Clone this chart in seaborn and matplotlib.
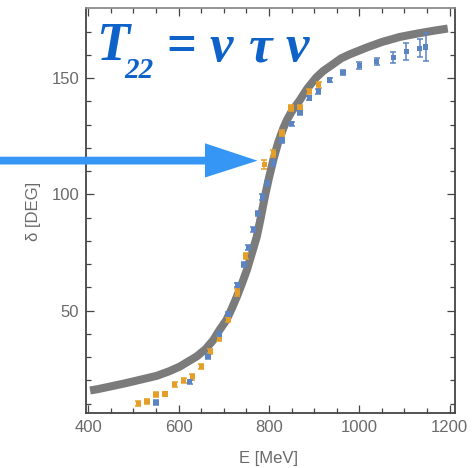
import matplotlib
matplotlib.use("Agg")
import matplotlib.pyplot as plt
import seaborn as sns
import numpy as np
from matplotlib.patches import Polygon

# ---- data ----
E_curve = [404, 420, 456, 480, 500, 552, 580, 603, 620, 640, 660, 677, 690, 706, 718,
           729, 740, 751, 762, 773, 782, 791, 800, 810, 820, 832, 840, 850, 868, 885,
           905, 920, 942, 960, 980, 1016, 1050, 1090, 1130, 1163, 1196]
delta_curve = [15.7, 16.2, 17.7, 18.7, 19.6, 22.0, 24.0, 26.0, 28.0, 30.3, 33.5, 37.4,
               41.5, 46.0, 51.0, 56.0, 61.5, 67.4, 74.5, 81.7, 90.0, 99.0, 107.0, 115.0,
               122.0, 128.5, 132.0, 135.5, 140.4, 145.5, 150.3, 153.0, 156.0, 158.5,
               160.3, 163.1, 165.5, 167.7, 169.2, 170.3, 171.3]

E_orange = [511, 530, 550, 570, 591, 611, 630, 650, 670, 690, 710, 730, 749,
            790, 810, 829, 849, 869, 889, 910]
d_orange = [10.0, 11.0, 13.9, 14.2, 18.3, 20.0, 21.6, 26.0, 32.4, 37.9, 46.3, 57.7, 73.5,
            112.9, 117.7, 126.3, 137.1, 137.4, 144.3, 147.1]
err_orange = [1.0, 1.0, 1.2, 1.0, 1.0, 1.0, 1.2, 1.0, 1.0, 1.0, 1.0, 1.5, 1.5,
              1.8, 1.5, 1.2, 1.2, 1.2, 1.2, 1.2]

E_blue = [550, 625, 665, 690, 710, 730, 745, 754, 765, 775, 785, 796, 810, 829, 850,
          869, 889, 909, 935, 964, 1000, 1039, 1075, 1104, 1134, 1147]
d_blue = [10.6, 19.4, 30.3, 39.9, 48.6, 61.0, 69.8, 77.2, 84.9, 91.7, 98.9, 104.6, 113.4,
          123.1, 130.3, 135.3, 141.4, 144.3, 149.2, 152.4, 155.3, 157.1, 158.8, 161.4,
          162.8, 163.4]
err_blue = [1.0, 1.0, 1.0, 1.0, 1.0, 1.0, 1.2, 1.2, 1.2, 1.2, 1.2, 1.2, 1.2, 1.2, 1.0,
            1.0, 1.0, 1.0, 1.0, 1.2, 1.4, 1.4, 2.5, 3.6, 3.9, 6.1]

x_ticks = [400, 600, 800, 1000, 1200]
y_ticks = [50, 100, 150]
x_label = "E [MeV]"
y_label = "δ [DEG]"

# ---- style ----
W, H = 473, 468
sns.set_theme(style="ticks")
plt.rcParams["font.family"] = ["Liberation Sans", "DejaVu Sans"]

BLUE = "#5a84c3"
ORANGE = "#e59f28"
GRAY = "#7b7b7b"
TXT = "#0f63c8"
ARROW = "#3596f6"

fig = plt.figure(figsize=(W / 100, H / 100), dpi=100)
fig.patch.set_facecolor("white")
ax = fig.add_axes([86 / W, 1 - 413 / H, 369 / W, 404.7 / H])
ax.set_facecolor("white")

sns.lineplot(x=E_curve, y=delta_curve, ax=ax, color=GRAY, linewidth=5.8,
             sort=False, estimator=None, zorder=2)
ax.lines[-1].set_solid_capstyle("butt")
ax.lines[-1].set_solid_joinstyle("round")

for E, d, e, c in [(E_orange, d_orange, err_orange, ORANGE),
                   (E_blue, d_blue, err_blue, BLUE)]:
    ax.errorbar(E, d, yerr=e, fmt="none", ecolor=c, elinewidth=1.1,
                capsize=2.2, capthick=1.1, zorder=3)
    sns.scatterplot(x=E, y=d, ax=ax, color=c, marker="s", s=14,
                    edgecolor="none", zorder=4)

ax.set_xlim(395, 1212)
ax.set_ylim(6, 180)
ax.set_xticks(x_ticks)
ax.set_yticks(y_ticks)
ax.set_xticks(np.arange(400, 1201, 50), minor=True)
ax.set_yticks(np.arange(10, 180, 10), minor=True)
ax.tick_params(which="both", direction="in", top=True, right=True,
               color="#444444", width=0.9)
ax.tick_params(which="major", length=6, labelsize=12, labelcolor="#6a6a6a", pad=5)
ax.tick_params(which="minor", length=3.5)
for s in ax.spines.values():
    s.set_color("#444444")
    s.set_linewidth(1.3)
ax.spines["top"].set_color("#8a8a8a")

ax.set_xlabel(x_label, fontsize=12, color="#6a6a6a", va="center")
ax.xaxis.set_label_coords((268 - 86) / 369, (413 - 458) / 404.7)
ax.set_ylabel(y_label, fontsize=12, color="#6a6a6a", va="center")
ax.yaxis.set_label_coords((33 - 86) / 369, (413 - 211) / 404.7)


def fx(x):
    return x / W


def fy(y):
    return 1 - y / H


# arrow
pts = [(0, 156.7), (205, 156.7), (205, 143.3), (257.5, 160.7), (205, 177.5),
       (205, 164.5), (0, 164.5)]
fig.add_artist(Polygon([(fx(x), fy(y)) for x, y in pts], closed=True,
                       transform=fig.transFigure, facecolor=ARROW,
                       edgecolor="none", zorder=10))

# formula text
serif = ["Liberation Serif", "DejaVu Serif"]
kw = dict(color=TXT, fontweight="bold", style="italic", family=serif,
          va="baseline", ha="left", zorder=11)
fig.text(fx(96), fy(60), "T", fontsize=39, **kw)
fig.text(fx(124), fy(78), "22", fontsize=21, **kw)
fig.text(fx(166), fy(60), "=", fontsize=38, **dict(kw, style="normal"))
fig.text(fx(210), fy(61), "ν", fontsize=38, **kw)
fig.text(fx(249), fy(61), "τ", fontsize=38, **kw)
fig.text(fx(286), fy(61), "ν", fontsize=38, **kw)

fig.savefig("out.png", dpi=100)
